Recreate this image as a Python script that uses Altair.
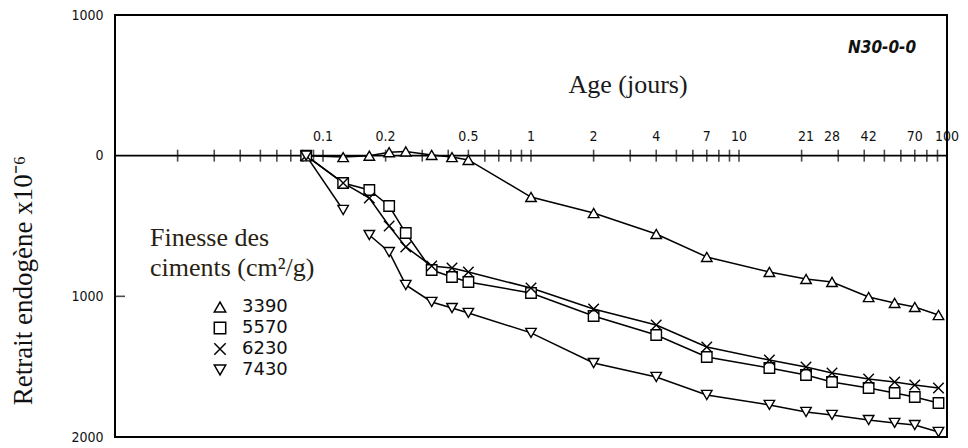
import altair as alt
import pandas as pd

# Age (jours)
ages = [0.083, 0.125, 0.167, 0.208, 0.25, 0.333, 0.417, 0.5, 1, 2, 4, 7, 14, 21, 28, 42, 56, 70, 91]
# Retrait endogène (x10-6), positive = shrinkage (drawn downward)
r3390 = [0, 10, 0, -25, -30, -5, 10, 30, 294, 408, 557, 720, 827, 877, 898, 1005, 1047, 1076, 1133]
r5570 = [0, 194, 244, 358, 550, 813, 863, 898, 976, 1140, 1275, 1431, 1509, 1559, 1609, 1652, 1687, 1716, 1758]
r6230 = [0, 194, 301, 500, 649, 784, 799, 827, 941, 1090, 1204, 1360, 1453, 1502, 1545, 1588, 1609, 1630, 1652]
r7430 = [0, 386, 564, 685, 919, 1040, 1083, 1118, 1260, 1474, 1573, 1701, 1772, 1822, 1843, 1879, 1900, 1915, 1964]
seg7430 = [0, 0, 1, 1, 1, 1, 1, 1, 1, 1, 1, 1, 1, 1, 1, 1, 1, 1, 1]

finesses = ["3390", "5570", "6230", "7430"]
shapes = ["triangle-up", "square", "M-1,-1L1,1M1,-1L-1,1", "triangle-down"]

tick_vals = [0.02, 0.03, 0.04, 0.05, 0.06, 0.07, 0.08, 0.09,
             0.1, 0.2, 0.3, 0.4, 0.5, 0.6, 0.7, 0.8, 0.9,
             1, 2, 3, 4, 5, 6, 7, 8, 9,
             10, 20, 30, 40, 50, 60, 70, 80, 90, 100]
label_vals = [0.1, 0.2, 0.5, 1, 2, 4, 7, 10, 21, 28, 42, 70, 100]
label_txt = ["0.1", "0.2", "0.5", "1", "2", "4", "7", "10", "21", "28", "42", "70", "100"]
y_ticks = [-1000, 0, 1000, 2000]
x_domain = [0.01, 100]
y_domain = [-1000, 2000]

rows = []
for f, vals in zip(finesses, [r3390, r5570, r6230, r7430]):
    for i, (a, v) in enumerate(zip(ages, vals)):
        seg = seg7430[i] if f == "7430" else 0
        rows.append({"age": a, "retrait": v, "finesse": f, "seg": f + "_" + str(seg)})
df = pd.DataFrame(rows)
ticks_df = pd.DataFrame({"t": tick_vals})
labels_df = pd.DataFrame({"t": label_vals, "txt": label_txt})
frame_df = pd.DataFrame({"x0": [x_domain[0]], "x1": [x_domain[1]],
                         "y0": [y_domain[0]], "y1": [y_domain[1]]})
one = pd.DataFrame({"k": [0]})

xs = alt.Scale(type="log", domain=x_domain, nice=False)
ys = alt.Scale(domain=y_domain, reverse=True, nice=False)

y_axis = alt.Axis(values=y_ticks, labelExpr="format(abs(datum.value), 'd')",
                  tickSize=0, domain=False, grid=False,
                  labelFont="DejaVu Sans Condensed", labelFontSize=14,
                  labelColor="#111", labelPadding=12,
                  title="Retrait  endogène x10⁻⁶", titleFont="Liberation Serif",
                  titleFontSize=27, titleFontWeight="normal", titleColor="#111",
                  titleX=-92, titleY=265, titleAngle=270,
                  titleAlign="center", titleBaseline="middle")

X = alt.X("age:Q", scale=xs, axis=None)
Y = alt.Y("retrait:Q", scale=ys, axis=y_axis)

frame = alt.Chart(frame_df).mark_rect(fill="white", fillOpacity=0, stroke="black",
                                      strokeWidth=2, strokeOpacity=1).encode(
    x=alt.X("x0:Q", scale=xs, axis=None), x2="x1:Q",
    y=alt.Y("y0:Q", scale=ys, axis=y_axis), y2="y1:Q")

base_line = alt.Chart(one).mark_rule(color="black", strokeWidth=1.6).encode(y=alt.datum(0, scale=ys))

ticks = alt.Chart(ticks_df).mark_tick(orient="vertical", size=12, thickness=1.6, color="black").encode(
    x=alt.X("t:Q", scale=xs, axis=None), y=alt.datum(0, scale=ys))

tick_labels = alt.Chart(labels_df).mark_text(
    font="DejaVu Sans Condensed", fontSize=14, dy=-19, color="#111").encode(
    x=alt.X("t:Q", scale=xs, axis=None), y=alt.datum(0, scale=ys), text="txt:N")

lines = alt.Chart(df).mark_line(color="black", strokeWidth=1.5).encode(
    x=X, y=Y, detail="seg:N", order="age:Q")

points = alt.Chart(df).mark_point(filled=False, color="black", fill="white", fillOpacity=1,
                                  strokeWidth=1.4, size=110, opacity=1).encode(
    x=X, y=Y,
    shape=alt.Shape("finesse:N", scale=alt.Scale(domain=finesses, range=shapes),
                    legend=alt.Legend(orient="none", legendX=96, legendY=283, title=None,
                                      labelFont="DejaVu Sans", labelFontSize=18,
                                      labelColor="#111", symbolSize=130,
                                      symbolStrokeWidth=1.5, rowPadding=3,
                                      labelOffset=13, padding=0)))

inner_tick = alt.Chart(one).mark_tick(orient="horizontal", size=10, thickness=1.6, color="black").encode(
    x=alt.value(5), y=alt.datum(1000, scale=ys))

t_age = alt.Chart(one).mark_text(text="Age (jours)", font="Liberation Serif", fontSize=26,
                                 color="#1a1a1a").encode(x=alt.value(513), y=alt.value(70))
t_code = alt.Chart(one).mark_text(text="N30-0-0", font="DejaVu Sans Condensed", fontSize=17,
                                  fontStyle="italic", fontWeight="bold", color="#111").encode(
    x=alt.value(767), y=alt.value(33))
t_fin1 = alt.Chart(one).mark_text(text="Finesse des", font="Liberation Serif", fontSize=26,
                                  align="left", color="#2a1f14").encode(x=alt.value(35), y=alt.value(223))
t_fin2 = alt.Chart(one).mark_text(text="ciments  (cm²/g)", font="Liberation Serif", fontSize=26,
                                  align="left", color="#2a1f14").encode(x=alt.value(35), y=alt.value(253))

chart = alt.layer(base_line, ticks, tick_labels, lines, points, inner_tick,
                  t_age, t_code, t_fin1, t_fin2, frame).properties(
    width=832, height=422,
    background="white",
    autosize=alt.AutoSizeParams(type="none"),
    padding={"left": 115, "top": 15, "right": 21, "bottom": 11},
).configure_view(stroke="black", strokeWidth=2)

chart.save("out.html", embed_options={"renderer": "svg", "actions": False})
